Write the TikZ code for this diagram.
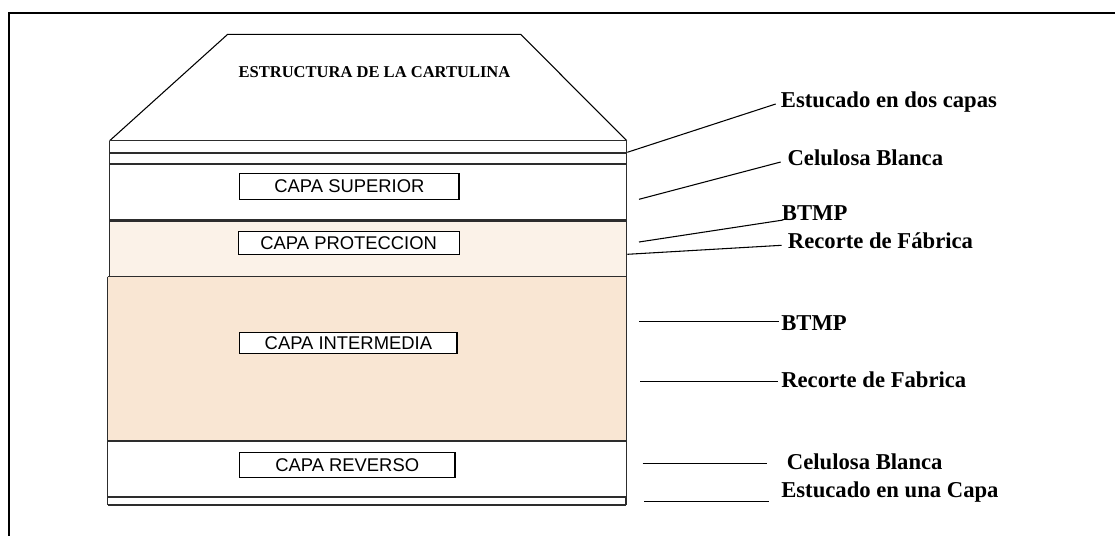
\documentclass[tikz,border=0pt]{standalone}
\usepackage{fontspec}
\setmainfont{Liberation Serif}
\newfontfamily\arialf{Liberation Sans}
\definecolor{prot}{RGB}{251,242,232}
\definecolor{inter}{RGB}{249,230,211}
\definecolor{edge}{RGB}{45,45,45}
\begin{document}
\begin{tikzpicture}[x=0.75pt,y=-0.75pt,
  bound/.style={draw=edge, line width=1.3pt},
  thinbound/.style={draw=edge, line width=0.8pt},
  capbox/.style={draw=black, fill=white, line width=0.9pt, inner sep=0pt, anchor=center,
    font=\arialf\fontsize{13.8}{16}\selectfont},
  lbl/.style={anchor=base west, inner sep=0pt, font=\bfseries\fontsize{17}{20}\selectfont},
  leader/.style={line width=0.8pt}]
\useasboundingbox (0,0) rectangle (1115,536);
% outer frame (partly outside)
\draw[line width=1.6pt] (9,545) -- (9,12.7) -- (1125,12.7);

% layer fills
\fill[prot] (109.7,220.5) rectangle (626.7,276.5);
\fill[inter] (107.7,276.5) rectangle (626.7,441);

% trapezoid
\draw[line width=0.8pt] (109.7,140.7) -- (227.7,34.3) -- (520.7,34.3) -- (626.7,140.7);

% horizontal boundaries
\draw[thinbound] (109.7,140.7) -- (626.7,140.7);
\draw[bound] (109.7,152.7) -- (626.7,152.7);
\draw[bound] (109.7,163.7) -- (626.7,163.7);
\draw[bound,line width=1.6pt] (109.7,220.5) -- (626.7,220.5);
\draw[thinbound] (107.7,276.5) -- (626.7,276.5);
\draw[bound,line width=1.7pt] (107.7,441.2) -- (626.7,441.2);
\draw[bound,line width=1.7pt] (107.7,497) -- (626.7,497);
\draw[thinbound] (107.7,505) -- (626,505);
% vertical edges
\draw[thinbound] (109.7,140.7) -- (109.7,276.5);
\draw[thinbound] (107.7,276.5) -- (107.7,505);
\draw[thinbound] (626.7,140.7) -- (626.7,497);
\draw[thinbound] (626,497) -- (626,505);

% title
\node[anchor=base, inner sep=0pt, font=\bfseries\fontsize{12.4}{14}\selectfont] (title) at (374.5,77.3) {ESTRUCTURA DE LA CARTULINA};

% layer boxes
\node[capbox, minimum width=164.3pt, minimum height=19.5pt] (sup) at (349.4,186.3) {CAPA SUPERIOR};
\node[capbox, minimum width=165.8pt, minimum height=17.6pt] (pro) at (348.7,243) {CAPA PROTECCION};
\node[capbox, minimum width=162.8pt, minimum height=15.8pt] (int) at (348.4,343.2) {CAPA INTERMEDIA};
\node[capbox, minimum width=161.8pt, minimum height=18.8pt] (rev) at (347.2,465.2) {CAPA REVERSO};

% labels
\node[lbl] (l1) at (780.7,107.5) {Estucado en dos capas};
\node[lbl] (l2) at (787.3,165.7) {Celulosa Blanca};
\node[lbl] (l3) at (781.7,220.5) {BTMP};
\node[lbl] (l4) at (787.7,248.7) {Recorte de Fábrica};
\node[lbl] (l5) at (781,330.5) {BTMP};
\node[lbl] (l6) at (781,387.3) {Recorte de Fabrica};
\node[lbl] (l7) at (786.7,469.3) {Celulosa Blanca};
\node[lbl] (l8) at (781,497.3) {Estucado en una Capa};

% leader end points
\coordinate (a1) at (627.3,152.3); \coordinate (b1) at (775.7,104);
\coordinate (a2) at (639,199.3);   \coordinate (b2) at (780.7,162);
\coordinate (a3) at (639,242);     \coordinate (b3) at (783.3,220);
\coordinate (a4) at (627.3,254.3); \coordinate (b4) at (781.7,245.3);
\coordinate (a5) at (639,321.7);   \coordinate (b5) at (779,321.7);
\coordinate (a6) at (640,381.7);   \coordinate (b6) at (778.3,381.7);
\coordinate (a7) at (642.7,463.3); \coordinate (b7) at (767.3,463.3);
\coordinate (a8) at (644,501.7);   \coordinate (b8) at (769.3,501.7);
\foreach \i in {1,...,8} \draw[leader] (a\i) -- (b\i);
\end{tikzpicture}
\end{document}
